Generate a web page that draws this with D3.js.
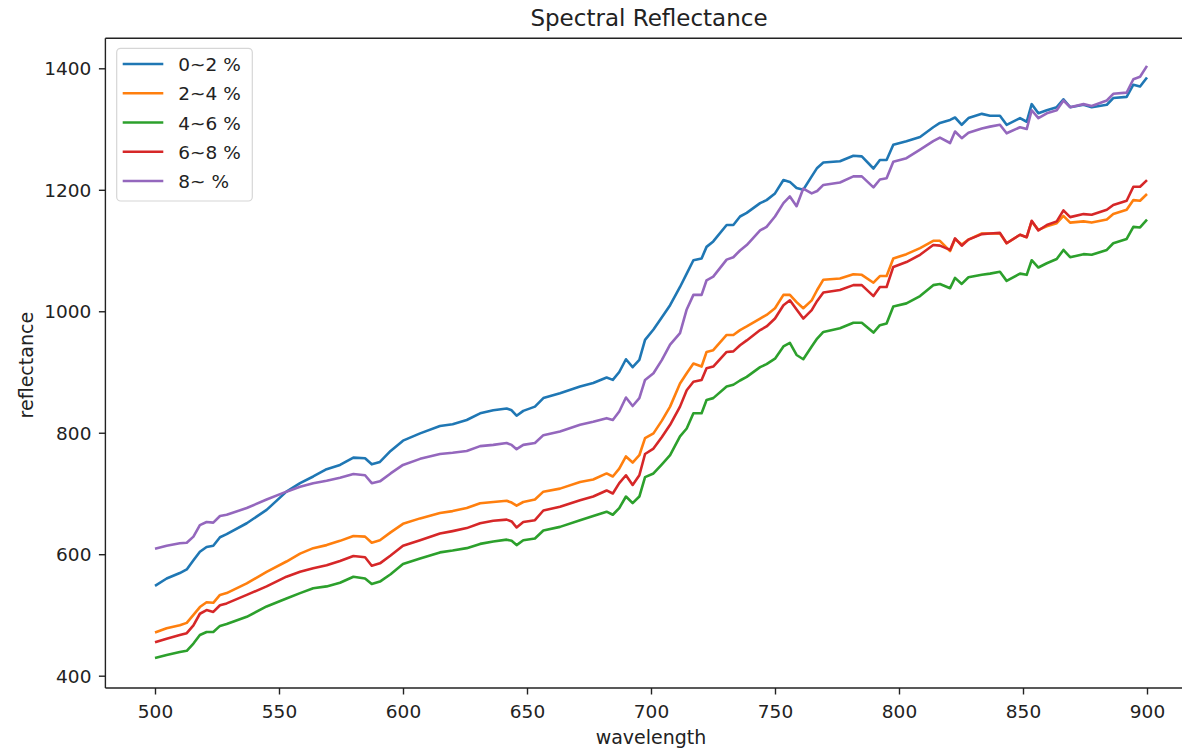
<!DOCTYPE html>
<html>
<head>
<meta charset="utf-8">
<script src="https://cdn.jsdelivr.net/npm/d3@7"></script>
<style>
  html, body { margin: 0; padding: 0; background: #fff; overflow: hidden; }
  svg { display: block; }
  text { font-family: "DejaVu Sans", sans-serif; fill: #222; }
</style>
</head>
<body>
<svg id="chart" width="1182" height="749"></svg>
<script>
// Band centres (nm) where the spectra were sampled
const wavelengths = [
  500, 504.7, 510, 512.8, 515.5, 518.1, 520.8, 523.5, 526.2, 528.9,
  537, 545, 553, 558.5, 563.8, 569.2, 574.6, 580, 584.7, 587.4,
  590.7, 595, 600, 606.9, 614.9, 620, 625.7, 631.1, 636.4, 641.8,
  643.8, 645.8, 648.5, 653.2, 656.6, 663.3, 671.4, 676.7, 682.1, 684.6,
  687.2, 689.9, 692.6, 695.3, 697.6, 701, 704.4, 707.7, 711.7, 714.4,
  717.1, 720.4, 722.4, 725.1, 730.5, 733.2, 735.9, 738.6, 744, 746.6,
  750, 753.4, 756, 758.7, 761.4, 764.8, 767, 769.5, 776.2, 781.6,
  785, 789.7, 792.3, 795, 797.7, 803, 808.5, 813.8, 816.5, 820.6,
  822.6, 825.3, 828, 833.4, 836.7, 840.7, 843.4, 848.8, 851.5, 853.5,
  856.2, 859.6, 863.6, 866.3, 869, 874.4, 877.7, 883.8, 886.4, 891.8,
  894.5, 897.2, 900
];

const seriesNames = ["0~2 %", "2~4 %", "4~6 %", "6~8 %", "8~ %"];
const seriesColors = ["#1f77b4", "#ff7f0e", "#2ca02c", "#d62728", "#9467bd"];

const refl0to2 = [
  548, 560, 569, 575, 590, 604, 612, 614, 628, 633,
  651, 673, 703, 717, 728, 740, 747, 759, 758, 748,
  752, 770, 787, 799, 811, 814, 821, 832, 837, 840,
  837, 828, 836, 843, 857, 865, 876, 882, 891, 887,
  900, 921, 908, 920, 953, 970, 990, 1010, 1040, 1062,
  1084, 1087, 1106, 1115, 1142, 1142, 1156, 1162, 1178, 1183,
  1194, 1216, 1213, 1203, 1200, 1222, 1236, 1245, 1247, 1256,
  1255, 1235, 1249, 1249, 1274, 1280, 1287, 1303, 1310, 1315,
  1319, 1307, 1318, 1325, 1322, 1322, 1307, 1318, 1312, 1341,
  1326, 1331, 1336, 1349, 1336, 1340, 1336, 1340, 1351, 1353,
  1373, 1370, 1385
];

const refl2to4 = [
  471, 478, 483, 487, 500, 513, 521, 520, 533, 536,
  552, 571, 588, 601, 610, 615, 622, 630, 629, 619,
  623, 636, 650, 659, 668, 671, 676, 684, 686, 688,
  685, 680, 686, 690, 703, 708, 719, 723, 733, 728,
  741, 761, 751, 763, 791, 799, 820, 843, 881, 898,
  914, 909, 933, 936, 961, 961, 969, 975, 988, 994,
  1005, 1027, 1027, 1015, 1005, 1018, 1035, 1052, 1054, 1061,
  1060, 1047, 1058, 1058, 1087, 1094, 1104, 1116, 1116, 1099,
  1119, 1110, 1118, 1128, 1128, 1128, 1112, 1126, 1122, 1148,
  1134, 1140, 1145, 1157, 1146, 1148, 1146, 1151, 1160, 1167,
  1183, 1182, 1193
];

const refl4to6 = [
  429, 434, 439, 441, 453, 467, 472, 472, 482, 485,
  497, 514, 527, 536, 544, 547, 553, 563, 560, 551,
  555, 567, 584, 593, 603, 606, 610, 617, 621, 624,
  622, 615, 623, 626, 639, 645, 656, 663, 670, 665,
  676, 695, 684, 695, 727, 733, 748, 763, 794, 807,
  832, 832, 854, 857, 876, 879, 886, 892, 908, 913,
  922, 942, 948, 928, 921, 942, 955, 966, 972, 981,
  981, 965, 977, 980, 1008, 1013, 1025, 1043, 1045, 1038,
  1055, 1045, 1056, 1060, 1062, 1065, 1050, 1062, 1060, 1084,
  1072, 1079, 1086, 1101, 1089, 1094, 1093, 1101, 1112, 1119,
  1139, 1138, 1151
];

const refl6to8 = [
  455, 461, 467, 470, 483, 502, 508, 505, 516, 519,
  533, 547, 563, 571, 577, 582, 589, 597, 595, 581,
  585, 598, 614, 623, 634, 638, 643, 651, 655, 657,
  654, 644, 653, 656, 672, 678, 689, 695, 705, 700,
  717, 730, 714, 730, 765, 774, 793, 813, 843, 870,
  884, 887, 906, 909, 933, 934, 944, 952, 969, 975,
  988, 1010, 1018, 1003, 988, 1002, 1017, 1031, 1035, 1043,
  1043, 1025, 1040, 1040, 1073, 1081, 1093, 1109, 1108, 1101,
  1120, 1108, 1118, 1127, 1128, 1129, 1112, 1126, 1122, 1149,
  1133, 1142, 1148, 1166, 1155, 1160, 1159, 1167, 1175, 1182,
  1205, 1205, 1216
];

const refl8up = [
  609, 614, 618, 619, 629, 648, 653, 652, 663, 665,
  676, 690, 703, 711, 717, 721, 726, 732, 730, 717,
  720, 733, 747, 757, 765, 767, 770, 778, 780, 783,
  780, 773, 780, 783, 796, 802, 813, 818, 824, 821,
  835, 858, 844, 857, 887, 898, 920, 945, 964, 1003,
  1027, 1027, 1051, 1057, 1085, 1089, 1100, 1109, 1133, 1139,
  1156, 1178, 1189, 1173, 1202, 1194, 1198, 1208, 1212, 1222,
  1222, 1204, 1217, 1219, 1246, 1252, 1266, 1280, 1286, 1277,
  1296, 1285, 1294, 1301, 1304, 1307, 1293, 1303, 1300, 1331,
  1318, 1326, 1331, 1347, 1336, 1341, 1338, 1347, 1358, 1360,
  1382, 1386, 1404
];

const xTicks = [500, 550, 600, 650, 700, 750, 800, 850, 900];
const yTicks = [400, 600, 800, 1000, 1200, 1400];

const seriesValues = [refl0to2, refl2to4, refl4to6, refl6to8, refl8up];

// Plotting area; the right side runs past the edge of the canvas
const plot = { left: 105.4, right: 1196.6, top: 38.3, bottom: 688 };
const fontSize = 18.5;

const svg = d3.select("#chart");

const x = d3.scaleLinear().domain([480, 920]).range([plot.left, plot.right]);
const y = d3.scaleLinear().domain([379.75, 1449.4]).range([plot.bottom, plot.top]);

// Lines
const line = d3.line()
  .x(d => x(d[0]))
  .y(d => y(d[1]));

const linesG = svg.append("g");
seriesValues.forEach((vals, i) => {
  const pts = wavelengths.map((w, j) => [w, vals[j]]);
  linesG.append("path")
    .datum(pts)
    .attr("fill", "none")
    .attr("stroke", seriesColors[i])
    .attr("stroke-width", 2.6)
    .attr("stroke-linejoin", "round")
    .attr("d", line);
});

// Frame (left, bottom, top)
const frame = svg.append("g")
  .attr("stroke", "#222")
  .attr("stroke-width", 1.4)
  .attr("fill", "none");
frame.append("line").attr("x1", plot.left).attr("x2", plot.left).attr("y1", plot.top).attr("y2", plot.bottom);
frame.append("line").attr("x1", plot.left).attr("x2", plot.right).attr("y1", plot.bottom).attr("y2", plot.bottom);
frame.append("line").attr("x1", plot.left).attr("x2", plot.right).attr("y1", plot.top).attr("y2", plot.top);

// Axes
const xAxis = d3.axisBottom(x).tickValues(xTicks).tickFormat(d3.format("d")).tickSize(6.5).tickPadding(6);
const yAxis = d3.axisLeft(y).tickValues(yTicks).tickFormat(d3.format("d")).tickSize(6.5).tickPadding(6);

const gx = svg.append("g").attr("transform", `translate(0,${plot.bottom})`).call(xAxis);
const gy = svg.append("g").attr("transform", `translate(${plot.left},0)`).call(yAxis);

[gx, gy].forEach(g => {
  g.select(".domain").remove();
  g.selectAll(".tick line").attr("stroke", "#222").attr("stroke-width", 1.4);
  g.selectAll(".tick text")
    .attr("font-family", "DejaVu Sans")
    .attr("font-size", fontSize)
    .attr("fill", "#222");
});
gx.selectAll(".tick text").attr("dy", null).attr("y", 29.5);
gy.selectAll(".tick text").attr("dy", "0.36em").attr("x", -14);

// Title and axis labels
svg.append("text")
  .attr("x", (plot.left + plot.right) / 2 - 2)
  .attr("y", 26)
  .attr("text-anchor", "middle")
  .attr("font-size", 23)
  .text("Spectral Reflectance");

svg.append("text")
  .attr("x", (plot.left + plot.right) / 2)
  .attr("y", 744)
  .attr("text-anchor", "middle")
  .attr("font-size", 19)
  .text("wavelength");

svg.append("text")
  .attr("transform", `translate(33,${(plot.top + plot.bottom) / 2 + 2}) rotate(-90)`)
  .attr("text-anchor", "middle")
  .attr("font-size", 19)
  .text("reflectance");

// Legend
const legend = svg.append("g");
legend.append("rect")
  .attr("x", 116.7).attr("y", 48.3)
  .attr("width", 135.6).attr("height", 152.7)
  .attr("rx", 4).attr("ry", 4)
  .attr("fill", "#fff").attr("fill-opacity", 0.8)
  .attr("stroke", "#d6d6d6").attr("stroke-width", 1.2);

const rowY = d3.scaleLinear().domain([0, 4]).range([64, 181]);
seriesNames.forEach((name, i) => {
  const yy = rowY(i);
  legend.append("line")
    .attr("x1", 122.7).attr("x2", 163.3)
    .attr("y1", yy).attr("y2", yy)
    .attr("stroke", seriesColors[i])
    .attr("stroke-width", 2.6);
  legend.append("text")
    .attr("x", 178.3)
    .attr("y", yy + 7)
    .attr("font-size", fontSize)
    .text(name);
});
</script>
</body>
</html>
